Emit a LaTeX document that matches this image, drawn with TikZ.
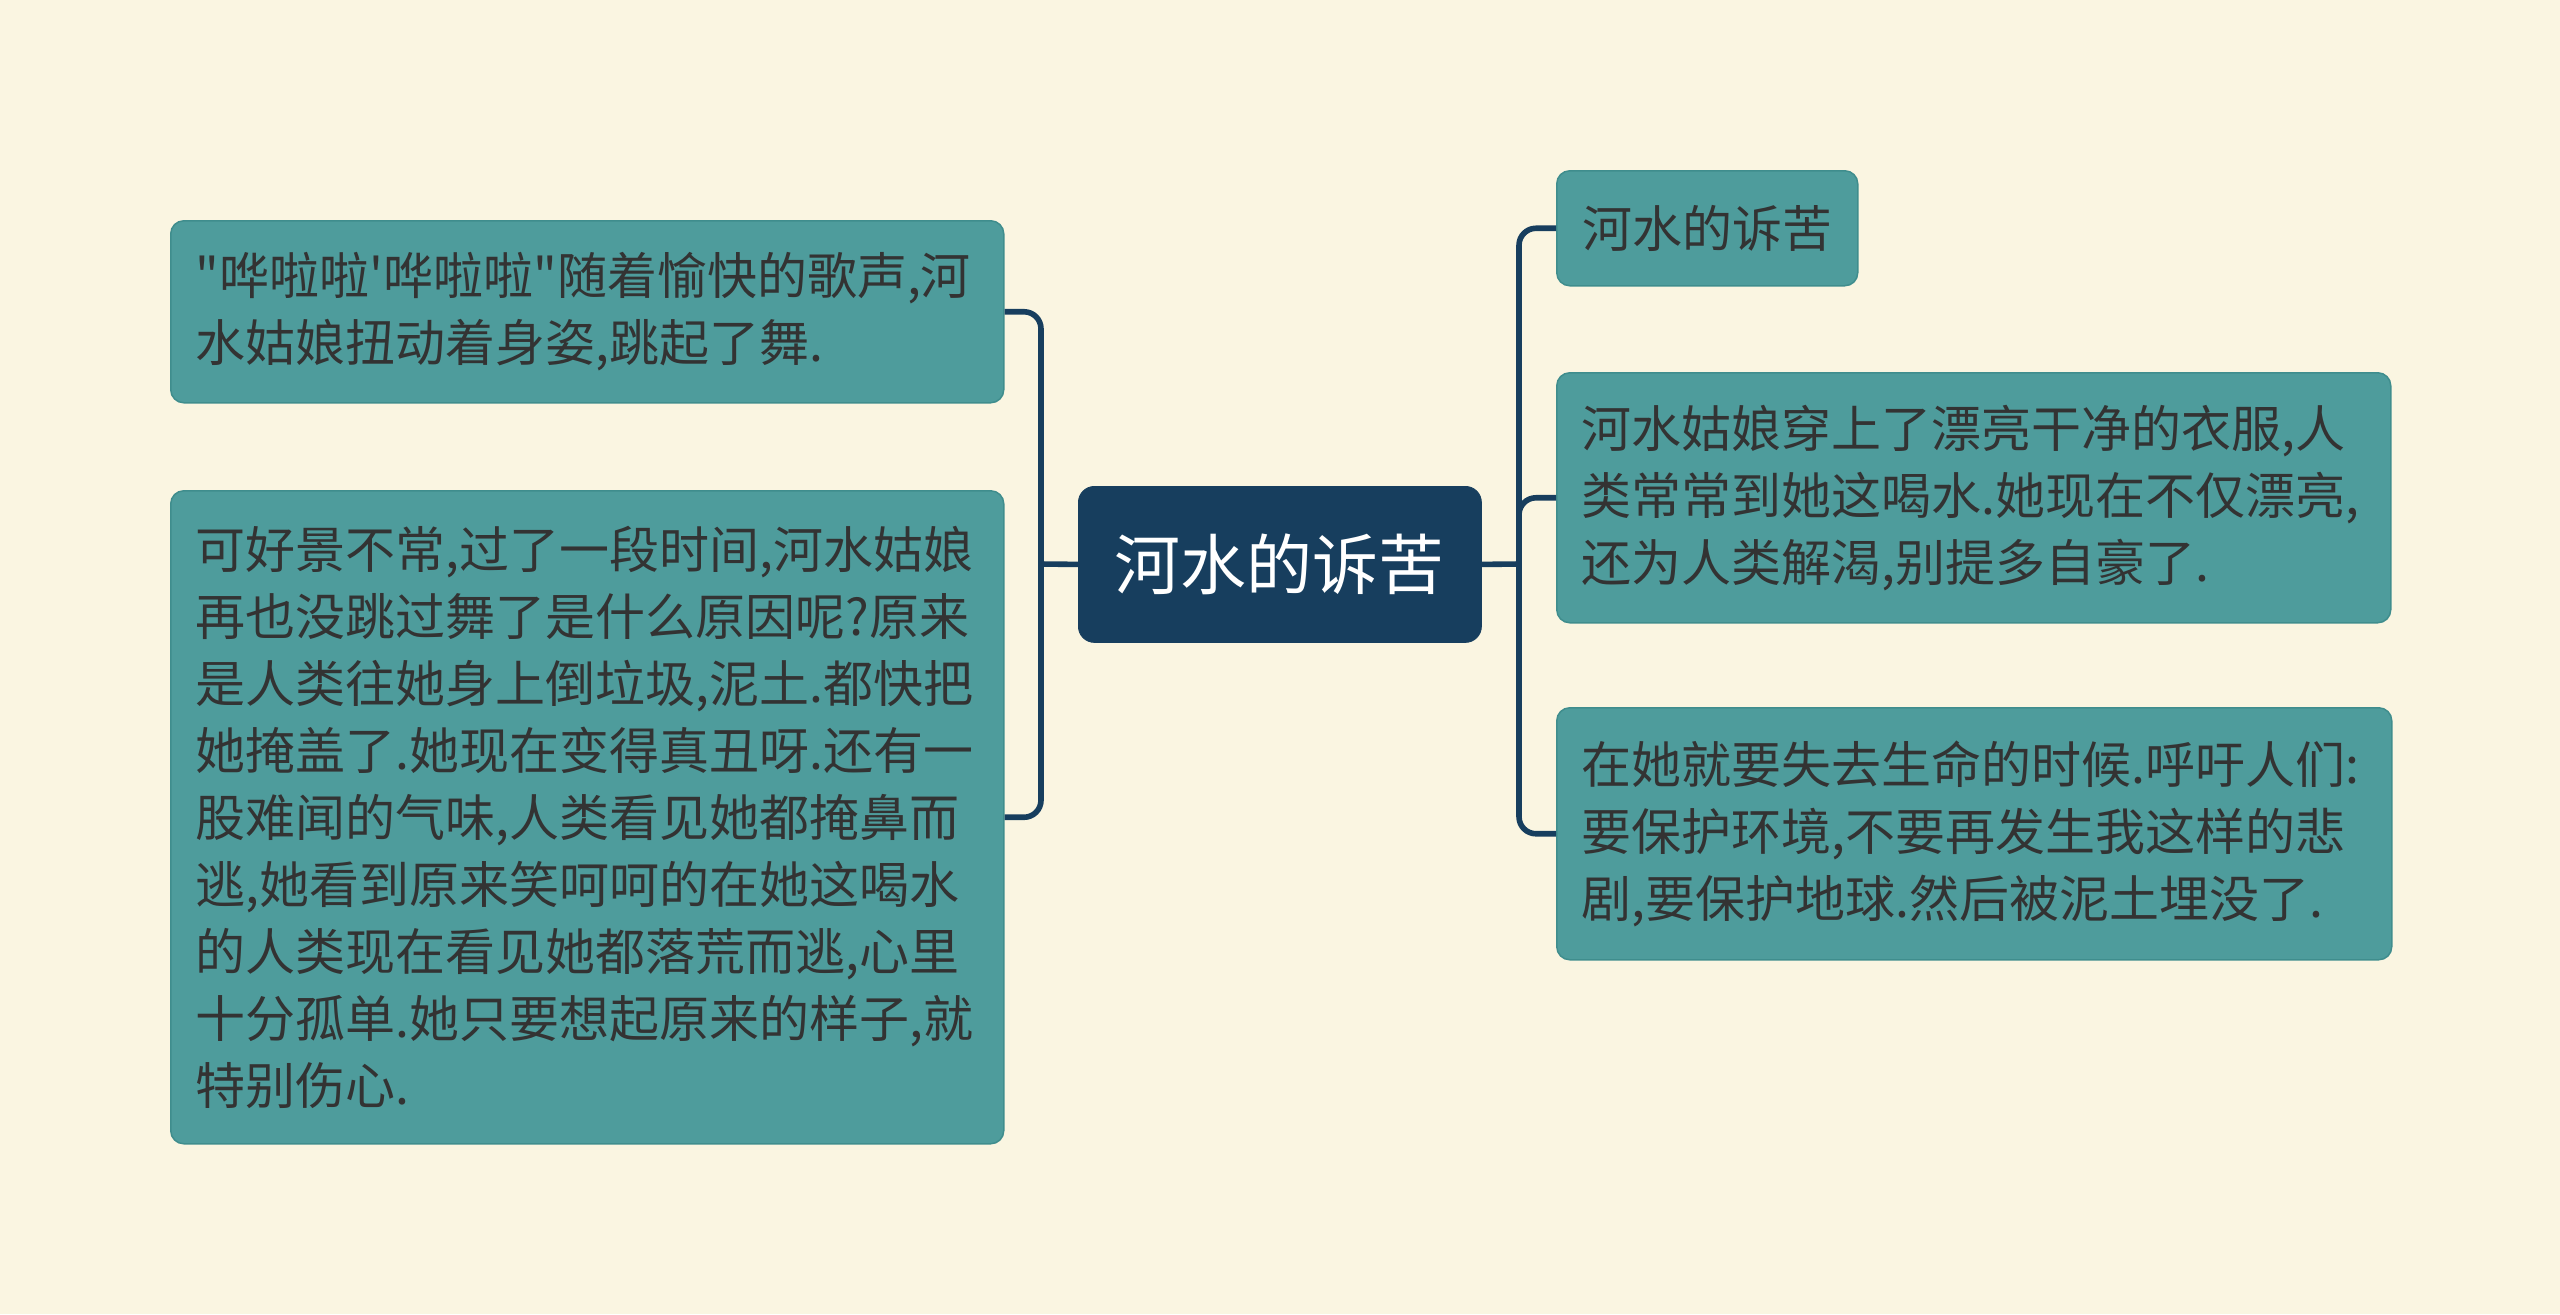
\documentclass[tikz,border=0pt]{standalone}
\usepackage{fontspec}
\newfontfamily\cjk{Noto Sans CJK SC}
\definecolor{bgc}{HTML}{FAF5E1}
\definecolor{tealbox}{HTML}{4E9C9C}
\definecolor{tealedge}{HTML}{3F8D8D}
\definecolor{navyc}{HTML}{173E5E}
\definecolor{txtc}{HTML}{333333}
\begin{document}
\begin{tikzpicture}[x=0.5pt,y=-0.5pt,
  box/.style={draw=tealedge, line width=0.75pt, fill=tealbox, rounded corners=6.5pt,
    anchor=north west, align=left, inner xsep=12.5pt, inner ysep=0pt,
    font=\cjk\fontsize{25pt}{33.5pt}\selectfont, text=txtc},
  cnode/.style={fill=navyc, draw=navyc, rounded corners=8pt, anchor=north west,
    inner sep=0pt, minimum width=201.5pt, minimum height=78pt,
    font=\cjk\fontsize{33pt}{40pt}\selectfont, text=white},
  conn/.style={draw=navyc, line width=2.8pt, rounded corners=8.5pt}]
\fill[bgc] (0,0) rectangle (2560,1314);
\useasboundingbox (0,0) rectangle (2560,1314);

\node[cnode] (c) at (1078,486) {河水的诉苦};

\node[box, minimum width=150.5pt, minimum height=57.5pt] (r1) at (1556,170) {河水的诉苦};
\node[box, text width=392pt, minimum height=125pt] (r2) at (1556,372)
  {河水姑娘穿上了漂亮干净的衣服,人\\类常常到她这喝水.她现在不仅漂亮,\\还为人类解渴,别提多自豪了.};
\node[box, text width=392.5pt, minimum height=126pt] (r3) at (1556,707)
  {在她就要失去生命的时候.呼吁人们:\\要保护环境,不要再发生我这样的悲\\剧,要保护地球.然后被泥土埋没了.};

\node[box, text width=391.5pt, minimum height=91pt] (l1) at (170,220)
  {"哗啦啦'哗啦啦"随着愉快的歌声,河\\水姑娘扭动着身姿,跳起了舞.};
\node[box, text width=391.5pt, minimum height=326.5pt] (l2) at (170,490)
  {可好景不常,过了一段时间,河水姑娘\\再也没跳过舞了是什么原因呢?原来\\是人类往她身上倒垃圾,泥土.都快把\\她掩盖了.她现在变得真丑呀.还有一\\股难闻的气味,人类看见她都掩鼻而\\逃,她看到原来笑呵呵的在她这喝水\\的人类现在看见她都落荒而逃,心里\\十分孤单.她只要想起原来的样子,就\\特别伤心.};

\coordinate (lt) at (1041,564);
\coordinate (rt) at (1519,564);

\draw[conn] (c.west) -- (lt);
\draw[conn] (l1.east) -| (lt) |- (l2.east);
\draw[conn] (c.east) -- (rt);
\draw[conn] (r1.west) -| (rt) |- (r3.west);
\draw[conn] (rt) |- (r2.west);
\end{tikzpicture}
\end{document}
